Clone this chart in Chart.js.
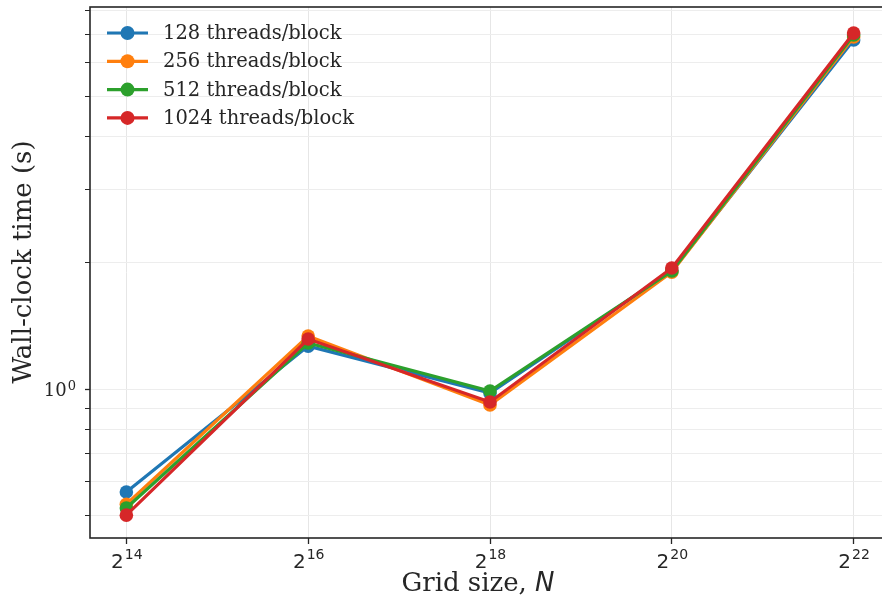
<!DOCTYPE html>
<html>
<head>
<meta charset="utf-8">
<script src="https://cdn.jsdelivr.net/npm/chart.js@4.4.0/dist/chart.umd.min.js"></script>
<style>
    html, body { margin: 0; padding: 0; background: #fff; overflow: hidden; }
    #wrap { width: 882px; height: 604px; overflow: hidden; }
</style>
</head>
<body>
<div id="wrap"><canvas id="tijdGrafiek" width="900" height="604"></canvas></div>
<script>
// roostergroottes N = 2^14 .. 2^22
const gridExponenten = [14, 16, 18, 20, 22];
const gridGroottes = gridExponenten.map(e => Math.pow(2, e));

// wall-clock tijden (s) per block-grootte
const tijd128 = [0.568, 1.266, 0.978, 1.912, 6.81];
const tijd256 = [0.531, 1.338, 0.916, 1.900, 6.92];
const tijd512 = [0.520, 1.288, 0.989, 1.912, 7.00];
const tijd1024 = [0.500, 1.316, 0.931, 1.945, 7.07];

const reeksNamen = ["128 threads/block", "256 threads/block", "512 threads/block", "1024 threads/block"];
const reeksKleuren = ["#1f77b4", "#ff7f0e", "#2ca02c", "#d62728"];

// y-as ticks: alleen 10^0 krijgt een label
const yHoofdTicks = [1];
const yHulpTicks = [0.5, 0.6, 0.7, 0.8, 0.9, 2, 3, 4, 5, 6, 7, 8];

const serif = "'DejaVu Serif', serif";
const sans = "'DejaVu Sans', sans-serif";

const reeksen = [tijd128, tijd256, tijd512, tijd1024];

const datasets = reeksen.map((tijden, i) => ({
    label: reeksNamen[i],
    data: gridGroottes.map((n, j) => ({ x: n, y: tijden[j] })),
    borderColor: reeksKleuren[i],
    backgroundColor: reeksKleuren[i],
    borderWidth: 3.2,
    pointRadius: 6.8,
    pointBorderWidth: 0,
    pointHoverRadius: 6.8,
    tension: 0,
    fill: false,
    order: reeksen.length - i
}));

// kader rond het plotgebied, ticklabels met exponent, astitels en legende
const asOpmaak = {
    id: 'asOpmaak',
    afterDraw(chart) {
        const ctx = chart.ctx;
        const a = chart.chartArea;
        const xs = chart.scales.x;
        const ys = chart.scales.y;
        ctx.save();

        ctx.strokeStyle = '#262626';
        ctx.lineWidth = 1.6;
        ctx.strokeRect(a.left, a.top, a.right - a.left, a.bottom - a.top);

        ctx.fillStyle = '#262626';
        ctx.textBaseline = 'alphabetic';

        // x ticklabels 2^k
        gridExponenten.forEach(e => {
            const px = xs.getPixelForValue(Math.pow(2, e));
            ctx.font = `20px ${sans}`;
            const wBasis = ctx.measureText('2').width;
            ctx.font = `14px ${sans}`;
            const wExp = ctx.measureText(String(e)).width;
            const start = px - (wBasis + wExp) / 2;
            ctx.textAlign = 'left';
            ctx.font = `20px ${sans}`;
            ctx.fillText('2', start, 568);
            ctx.font = `14px ${sans}`;
            ctx.fillText(String(e), start + wBasis + 1, 559);
        });

        // y ticklabel 10^0
        yHoofdTicks.forEach(v => {
            const py = ys.getPixelForValue(v);
            ctx.textAlign = 'right';
            ctx.font = `13px ${serif}`;
            ctx.fillText('0', 76, py + 1);
            const wExp = ctx.measureText('0').width;
            ctx.font = `18px ${serif}`;
            ctx.fillText('10', 76 - wExp - 1, py + 7);
        });

        // astitels
        ctx.textAlign = 'left';
        ctx.font = `26px ${serif}`;
        const deel1 = 'Grid size, ';
        const w1 = ctx.measureText(deel1).width;
        ctx.font = `italic 26px ${sans}`;
        const w2 = ctx.measureText('N').width;
        const xStart = 478 - (w1 + w2) / 2;
        ctx.font = `26px ${serif}`;
        ctx.fillText(deel1, xStart, 591);
        ctx.font = `italic 26px ${sans}`;
        ctx.fillText('N', xStart + w1, 591);

        ctx.save();
        ctx.translate(31, 262);
        ctx.rotate(-Math.PI / 2);
        ctx.textAlign = 'center';
        ctx.font = `26px ${serif}`;
        ctx.fillText('Wall-clock time (s)', 0, 0);
        ctx.restore();

        // legende
        reeksNamen.forEach((naam, i) => {
            const ly = 33 + i * 28.3;
            ctx.strokeStyle = reeksKleuren[i];
            ctx.lineWidth = 3.2;
            ctx.beginPath();
            ctx.moveTo(107, ly);
            ctx.lineTo(148, ly);
            ctx.stroke();
            ctx.fillStyle = reeksKleuren[i];
            ctx.beginPath();
            ctx.arc(127.5, ly, 7, 0, Math.PI * 2);
            ctx.fill();
            ctx.fillStyle = '#262626';
            ctx.font = `19.5px ${serif}`;
            ctx.textAlign = 'left';
            ctx.textBaseline = 'middle';
            ctx.fillText(naam, 163, ly + 1);
        });

        ctx.restore();
    }
};

new Chart(document.getElementById('tijdGrafiek').getContext('2d'), {
    type: 'line',
    data: { datasets: datasets },
    options: {
        responsive: false,
        animation: false,
        events: [],
        layout: { padding: { left: 0, top: 7, right: 10, bottom: 0 } },
        plugins: {
            legend: { display: false },
            tooltip: { enabled: false }
        },
        scales: {
            x: {
                type: 'logarithmic',
                min: Math.pow(2, 13.6),
                max: Math.pow(2, 22.4),
                afterBuildTicks: s => { s.ticks = gridGroottes.map(v => ({ value: v })); },
                afterFit: s => { s.height = 66; },
                ticks: { display: false },
                border: { display: false },
                grid: { color: '#e6e6e6', lineWidth: 1, tickColor: '#262626', tickLength: 6, tickWidth: 1.3 }
            },
            y: {
                type: 'logarithmic',
                min: 0.441,
                max: 8.16,
                afterBuildTicks: s => {
                    s.ticks = yHulpTicks.concat(yHoofdTicks).sort((p, q) => p - q).map(v => ({ value: v }));
                },
                afterFit: s => { s.width = 90; },
                ticks: { display: false },
                border: { display: false },
                grid: {
                    color: '#ededed',
                    lineWidth: 1,
                    tickColor: '#262626',
                    tickLength: 5,
                    tickWidth: ctx => (ctx.tick && ctx.tick.value === 1 ? 1.3 : 1)
                }
            }
        }
    },
    plugins: [asOpmaak]
});
</script>
</body>
</html>
